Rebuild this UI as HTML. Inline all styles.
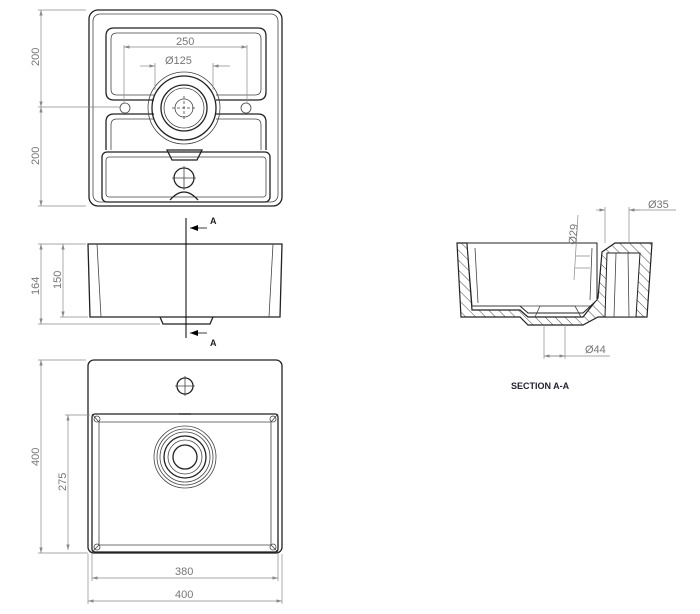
<!DOCTYPE html>
<html><head><style>
html,body{margin:0;padding:0;background:#fff}
svg{display:block}
.o{fill:none;stroke:#222;stroke-width:1.3}
.t{fill:none;stroke:#444;stroke-width:0.8}
.d{fill:none;stroke:#8a8a8a;stroke-width:0.7}
text{font-family:"Liberation Sans",sans-serif;font-size:11px;fill:#777}
</style></head><body>
<svg width="700" height="614" viewBox="0 0 700 614" xmlns="http://www.w3.org/2000/svg">
<defs>
<marker id="a" viewBox="0 0 10 6" refX="10" refY="3" markerWidth="8" markerHeight="5" orient="auto-start-reverse"><path d="M0,0 L10,3 L0,6z" fill="#888"/></marker>
<pattern id="h" width="7" height="7" patternUnits="userSpaceOnUse" patternTransform="rotate(-45)"><line x1="0" y1="0" x2="0" y2="7" stroke="#333" stroke-width="0.9"/></pattern>
</defs>

<!-- TOP VIEW -->
<rect class="o" x="89" y="10" width="193" height="196" rx="9"/>
<rect class="t" x="93" y="14" width="185" height="188" rx="7"/>
<path class="o" d="M114,28 H258 Q266,28 266,36 V92 Q266,100 258,100 H216 M154,100 H114 Q106,100 106,92 V36 Q106,28 114,28"/>
<path class="t" d="M117,33 H255 Q261,33 261,39 V89 Q261,95 255,95 H216 M154,95 H117 Q111,95 111,89 V39 Q111,33 117,33"/>
<path class="o" d="M154,114 H114 Q106,114 106,122 V150 M216,114 H258 Q266,114 266,122 V150"/>
<path class="t" d="M154,119 H117 Q111,119 111,125 V150 M216,119 H255 Q261,119 261,125 V150"/>
<rect class="o" x="102" y="152" width="168" height="50" rx="5"/>
<rect class="t" x="106" y="157" width="160" height="40" rx="3"/>
<path class="o" d="M167,150 L172,160 H197 L202,150 Z"/>
<circle class="o" cx="184" cy="108" r="32"/>
<circle class="t" cx="184" cy="108" r="36"/>
<circle class="o" cx="184" cy="108" r="23"/>
<circle class="t" cx="184" cy="108" r="20"/>
<circle class="t" cx="184" cy="108" r="9"/>
<path class="t" d="M184,96 V120 M172,108 H196" stroke-dasharray="3,2"/>
<circle class="t" cx="125" cy="108" r="5"/><circle class="t" cx="246" cy="108" r="5"/>
<circle class="o" cx="184" cy="178" r="10"/>
<path class="t" d="M184,166 V190 M172,178 H196"/>
<path class="o" d="M170,200 Q184,184 198,200"/>
<path class="d" d="M124,104 V45 M247,104 V45 M155,90 V63 M213,90 V63"/>
<line class="d" x1="124" y1="47" x2="247" y2="47" marker-start="url(#a)" marker-end="url(#a)"/>
<text x="176" y="45">250</text>
<line class="d" x1="140" y1="66" x2="155" y2="66" marker-end="url(#a)"/>
<line class="d" x1="230" y1="66" x2="213" y2="66" marker-end="url(#a)"/>
<text x="165" y="64">Ø125</text>
<path class="d" d="M38,10 H86 M38,107 H120 M38,206 H86"/>
<line class="d" x1="41" y1="10" x2="41" y2="107" marker-start="url(#a)" marker-end="url(#a)"/>
<line class="d" x1="41" y1="107" x2="41" y2="206" marker-start="url(#a)" marker-end="url(#a)"/>
<text transform="translate(39,66) rotate(-90)">200</text>
<text transform="translate(39,165) rotate(-90)">200</text>

<!-- SIDE VIEW -->
<path class="o" d="M88,244 H282 L280,317 H90 Z"/>
<path class="t" d="M97,244 L101,317 M273,244 L269,317"/>
<path class="o" d="M160,317 L163,324 H210 L213,317"/>
<line x1="186" y1="218" x2="186" y2="338" stroke="#000" stroke-width="1"/>
<path d="M190,228 L198,225 V231Z M190,333 L198,330 V336Z" fill="#000"/>
<path d="M190,228 H207 M190,333 H207" stroke="#000" stroke-width="0.8"/>
<text x="210" y="224" style="font-size:9px;fill:#222;font-weight:bold">A</text>
<text x="210" y="346" style="font-size:9px;fill:#222;font-weight:bold">A</text>
<path class="d" d="M38,244 H86 M38,324 H160 M60,317 H88"/>
<line class="d" x1="41" y1="244" x2="41" y2="324" marker-start="url(#a)" marker-end="url(#a)"/>
<line class="d" x1="63" y1="244" x2="63" y2="317" marker-start="url(#a)" marker-end="url(#a)"/>
<text transform="translate(39,295) rotate(-90)">164</text>
<text transform="translate(61,289) rotate(-90)">150</text>

<!-- BOTTOM VIEW -->
<rect class="o" x="88" y="360" width="194" height="193" rx="6"/>
<rect class="o" x="92" y="414" width="186" height="138" rx="3"/>
<path class="t" d="M99,422 H271 V545 H99 Z"/>
<path class="t" d="M92,414 L99,422 M278,414 L271,422 M92,552 L99,545 M278,552 L271,545"/>
<circle class="t" cx="97" cy="419" r="3"/><circle class="t" cx="273" cy="419" r="3"/>
<circle class="t" cx="97" cy="547" r="3"/><circle class="t" cx="273" cy="547" r="3"/>
<path class="o" d="M179,414 H191" stroke-width="2"/>
<circle class="o" cx="185" cy="386" r="8"/>
<path class="t" d="M185,376 V396 M175,386 H195"/>
<circle class="t" cx="185" cy="457" r="31"/>
<circle class="t" cx="185" cy="457" r="28"/>
<circle class="t" cx="185" cy="457" r="25"/>
<circle class="o" cx="185" cy="457" r="21"/>
<circle class="t" cx="185" cy="457" r="17"/>
<circle class="o" cx="185" cy="457" r="12"/>
<path class="d" d="M38,360 H86 M65,415 H90 M38,553 H88"/>
<line class="d" x1="41" y1="360" x2="41" y2="553" marker-start="url(#a)" marker-end="url(#a)"/>
<line class="d" x1="68" y1="415" x2="68" y2="550" marker-start="url(#a)" marker-end="url(#a)"/>
<text transform="translate(39,466) rotate(-90)">400</text>
<text transform="translate(66,491) rotate(-90)">275</text>
<path class="d" d="M92,554 V581 M278,554 V581 M88,554 V604 M282,554 V604"/>
<line class="d" x1="92" y1="578" x2="278" y2="578" marker-start="url(#a)" marker-end="url(#a)"/>
<line class="d" x1="88" y1="601" x2="282" y2="601" marker-start="url(#a)" marker-end="url(#a)"/>
<text x="175" y="575">380</text>
<text x="175" y="598">400</text>

<!-- SECTION A-A -->
<path d="M457,243 H467 L472,310 H520 L528,317 H583 L598,298 L602,252 L615,243 H652 L647,317 H598 L583,325 H528 L520,317 H461 Z" fill="url(#h)" stroke="#222" stroke-width="1.2"/>
<path d="M467,243 H597 L597,300 L583,313 H528 L520,306 H472 Z" fill="#fff" stroke="#222" stroke-width="1"/>
<path d="M607,253 H640 L636,317 H605 Z" fill="#fff" stroke="#222" stroke-width="1"/>
<path class="t" d="M616,253 L614,317 M628,253 L629,317 M475,248 L478,303 M592,248 L590,300 M472,306 H590"/>
<path class="t" d="M535,317 L540,306 H575 L581,317"/>
<path class="d" d="M605,243 V207 M629,243 V207 M629,210 H676"/>
<line class="d" x1="596" y1="210" x2="605" y2="210" marker-end="url(#a)"/>
<line class="d" x1="640" y1="210" x2="629" y2="210" marker-end="url(#a)"/>
<text x="648" y="208">Ø35</text>
<path class="d" d="M544,325 V359 M565,325 V359 M544,356 H610"/>
<line class="d" x1="544" y1="356" x2="565" y2="356" marker-start="url(#a)" marker-end="url(#a)"/>
<text x="585" y="353">Ø44</text>
<path class="d" d="M578,215 L574,280 M576,256 H590 M575,268 H590"/>
<text transform="translate(576,245) rotate(-85)">Ø29</text>
<text x="511" y="389" style="fill:#223;font-size:9px;font-weight:bold">SECTION A-A</text>
</svg>
</body></html>
